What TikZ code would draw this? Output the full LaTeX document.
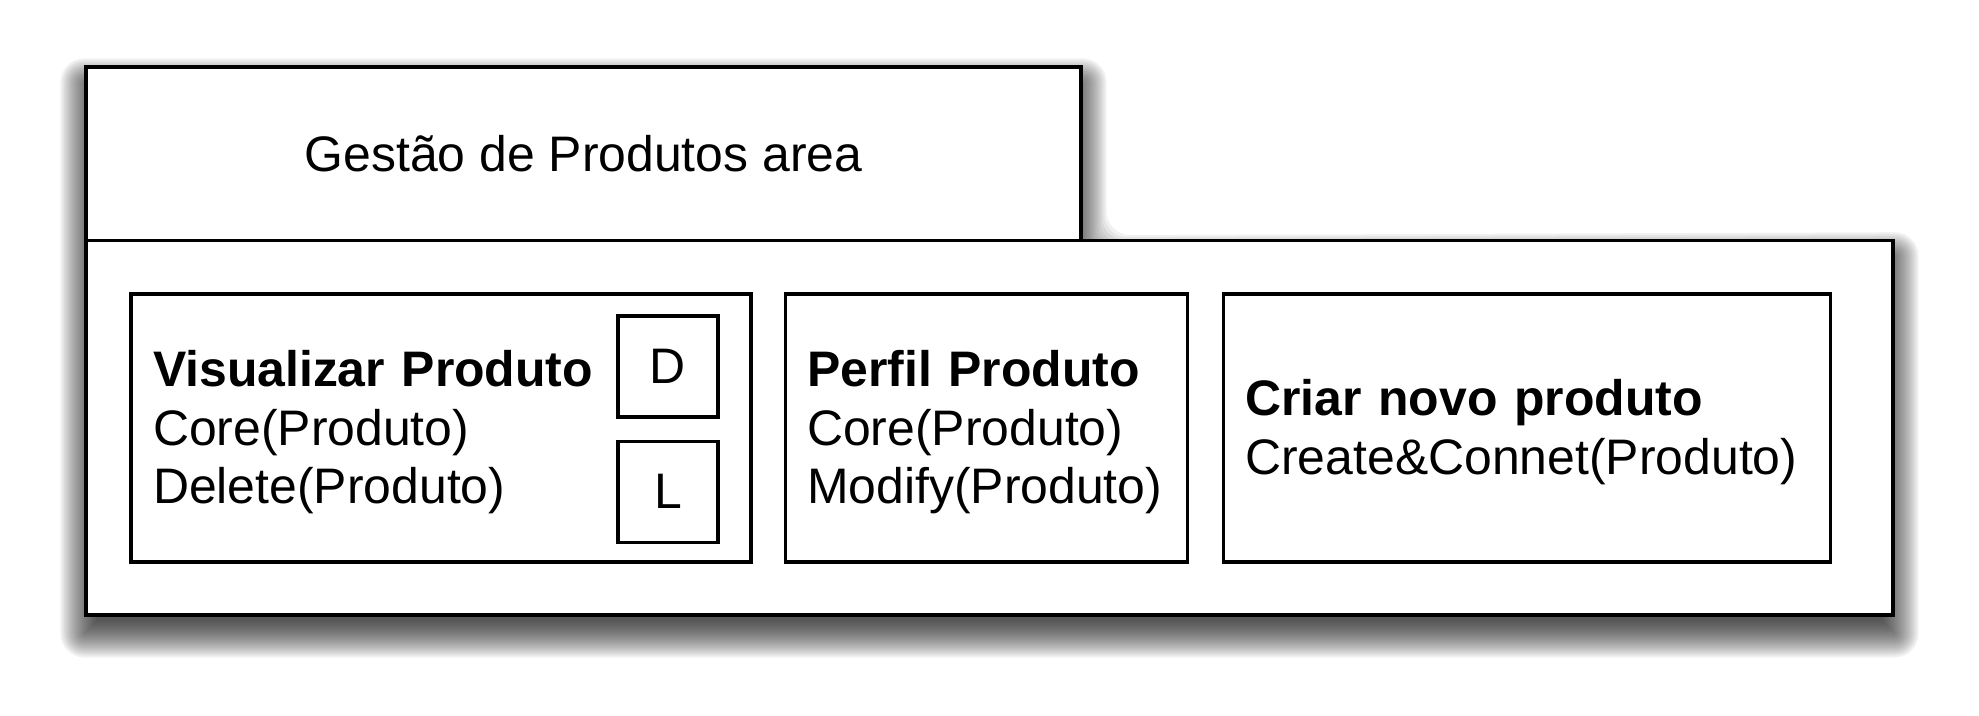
\documentclass[tikz,border=0pt]{standalone}
\usepackage{fontspec}
\setmainfont{Liberation Sans}
\usetikzlibrary{positioning,backgrounds}
\newcommand\lift{\rule{0pt}{12.7pt}}
\tikzset{
  frame/.style={draw,line width=0.9pt,fill=white,rectangle,inner sep=0pt},
  casebox/.style={frame,minimum height=2.68cm,inner xsep=0.22cm,align=left,font=\fontsize{14.2}{16.7}\selectfont},
  flagbox/.style={frame,minimum width=1cm,minimum height=1.01cm,font=\fontsize{14.2}{16.7}\selectfont},
  shade/.style={fill=black,opacity=0.055}
}
\begin{document}
\begin{tikzpicture}
\useasboundingbox (0,0) rectangle (19.79,7.16);
\node[frame,minimum width=9.95cm,minimum height=1.737cm,font=\fontsize{14.2}{16.7}\selectfont] (area) at (5.835,5.6215) {Gestão de Produtos area};
\node[frame,minimum width=18.07cm,minimum height=3.743cm] (body) at (9.895,2.8815) {};
\node[casebox,text width=5.76cm] (visualizar) at (4.41,2.88) {\lift\textbf{Visualizar Produto}\\Core(Produto)\\Delete(Produto)};
\node[casebox,text width=3.58cm,right=0.31cm of visualizar] (perfil) {\lift\textbf{Perfil Produto}\\Core(Produto)\\Modify(Produto)};
\node[casebox,text width=5.63cm,right=0.33cm of perfil] (criar) {\lift\textbf{Criar novo produto}\\Create\&Connet(Produto)};
\node[flagbox,below left=0.22cm and 0.33cm of visualizar.north east] (flagD) {D};
\node[flagbox,below=0.21cm of flagD] (flagL) {L};
\begin{scope}[on background layer]
\foreach\i in{0,...,18}{
  \pgfmathsetmacro\s{0.02*\i-0.12}\pgfmathsetmacro\lo{-\s}
  \pgfmathsetmacro\up{\s-0.17}\pgfmathsetmacro\dn{-\s-0.17}\pgfmathsetmacro\rc{max(\s,0.001)}
  \fill[shade,rounded corners=\rc cm]([shift={(\lo,\up)}]area.north west)--([shift={(\s,\up)}]area.north east)--([shift={(\s,\up)}]area.south east)--([shift={(\s,\up)}]body.north east)--([shift={(\s,\dn)}]body.south east)--([shift={(\lo,\dn)}]body.south west)--cycle;
}
\end{scope}
\end{tikzpicture}
\end{document}
